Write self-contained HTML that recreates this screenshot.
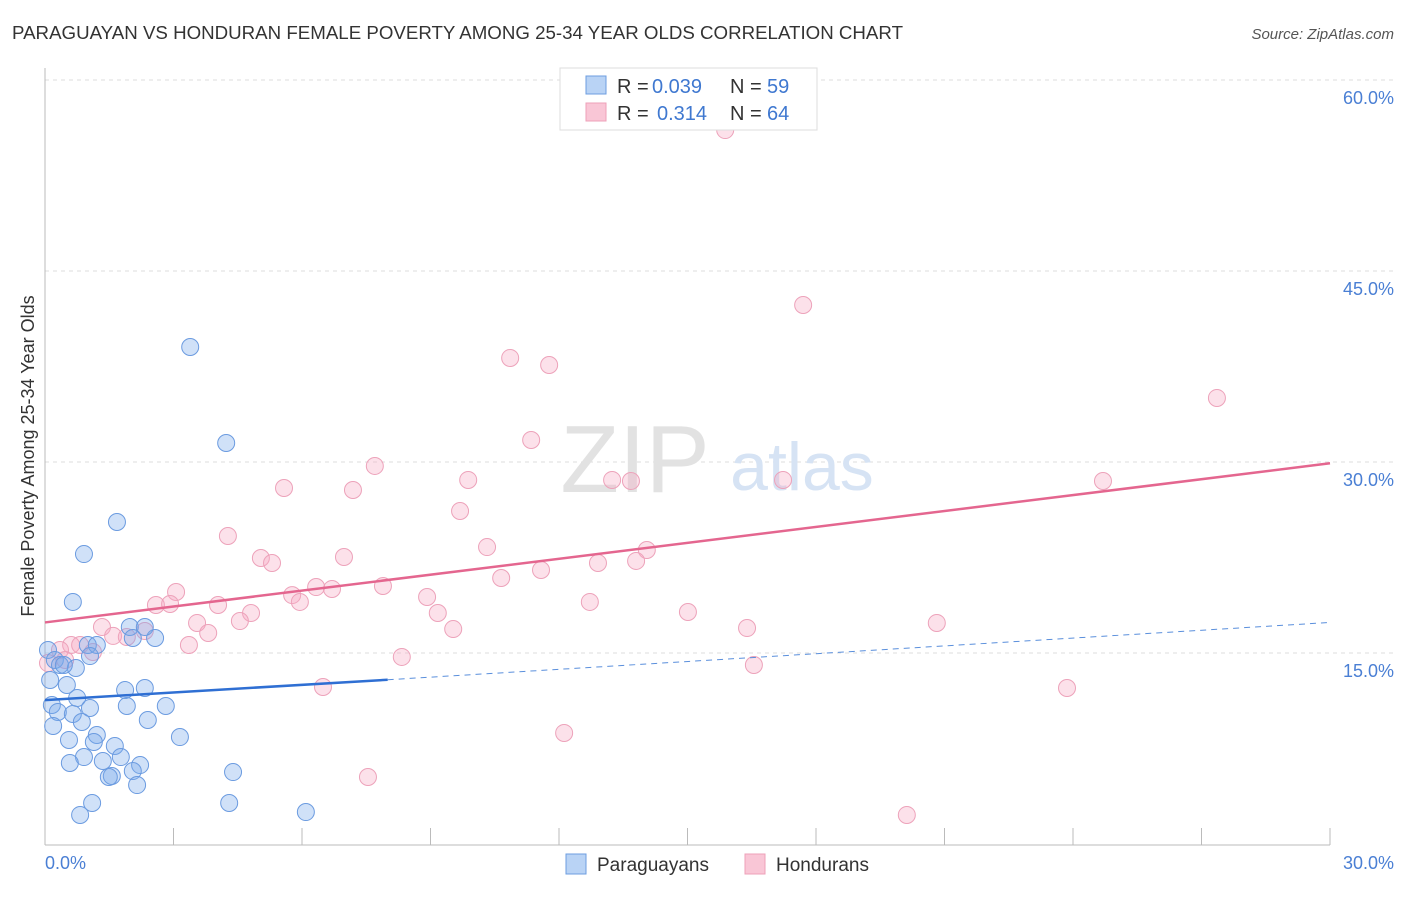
<!DOCTYPE html>
<html><head><meta charset="utf-8"><style>
body{margin:0;background:#fff;font-family:"Liberation Sans",sans-serif}
svg text{font-family:"Liberation Sans",sans-serif}
</style></head><body>
<svg width="1406" height="892" xmlns="http://www.w3.org/2000/svg">
<text x="12" y="39" font-size="18" fill="#333" textLength="891" lengthAdjust="spacingAndGlyphs">PARAGUAYAN VS HONDURAN FEMALE POVERTY AMONG 25-34 YEAR OLDS CORRELATION CHART</text>
<text x="1394" y="39" font-size="15" fill="#555" font-style="italic" text-anchor="end">Source: ZipAtlas.com</text>
<g id="grid"></g>
<text x="635" y="492" font-size="96" fill="#e2e2e2" font-family="Liberation Serif" text-anchor="middle">ZIP</text>
<text x="802" y="490" font-size="68" fill="#d6e3f4" text-anchor="middle">atlas</text>
<g id="pts"></g>
<g id="lines"></g>
<text transform="translate(34,456) rotate(-90)" font-size="18" fill="#333" text-anchor="middle">Female Poverty Among 25-34 Year Olds</text>
<text x="45" y="869" font-size="18" fill="#4a7fd4">0.0%</text>
<text x="1394" y="869" font-size="18" fill="#4a7fd4" text-anchor="end">30.0%</text>
<g>
<rect x="560" y="68" width="257" height="62" fill="#fff" stroke="#ddd"/>
<rect x="586" y="76" width="20" height="18" fill="#b9d3f5" stroke="#6d9ee0"/>
<rect x="586" y="103" width="20" height="18" fill="#f9c6d6" stroke="#eea0b8"/>
<text x="617" y="93" font-size="20" fill="#333">R =</text>
<text x="652" y="93" font-size="20" fill="#3f78d0">0.039</text>
<text x="730" y="93" font-size="20" fill="#333">N =</text>
<text x="767" y="93" font-size="20" fill="#3f78d0">59</text>
<text x="617" y="120" font-size="20" fill="#333">R =</text>
<text x="657" y="120" font-size="20" fill="#3f78d0">0.314</text>
<text x="730" y="120" font-size="20" fill="#333">N =</text>
<text x="767" y="120" font-size="20" fill="#3f78d0">64</text>
</g>
<g><rect x="566" y="854" width="20" height="20" fill="#b9d3f5" stroke="#6d9ee0"/><text x="597" y="871" font-size="19" fill="#333">Paraguayans</text></g>
<g><rect x="745" y="854" width="20" height="20" fill="#f9c6d6" stroke="#eea0b8"/><text x="776" y="871" font-size="19" fill="#333">Hondurans</text></g>
</svg>
<script>
const yTicks=[15,30,45,60];
const xTickCount=10;
const blueX=[3.39,4.23,1.68,0.91,0.65,1.00,1.98,2.57,2.33,2.05,0.07,0.23,0.35,0.72,0.12,0.51,1.87,2.33,0.16,0.75,1.91,2.82,1.05,0.30,0.65,0.86,2.40,0.19,3.15,0.56,1.21,1.14,1.63,1.77,1.35,2.22,0.91,0.58,2.05,4.39,1.56,1.49,2.15,1.10,4.30,0.82,6.09,0.44,1.21,1.05];
const blueY=[39.03,31.49,25.29,22.77,19.01,15.63,17.04,16.18,17.04,16.18,15.24,14.45,14.06,13.82,12.88,12.49,12.09,12.25,10.92,11.47,10.84,10.84,10.68,10.37,10.21,9.58,9.74,9.27,8.40,8.17,8.56,8.01,7.70,6.83,6.52,6.20,6.83,6.36,5.73,5.65,5.34,5.26,4.63,3.22,3.22,2.28,2.51,14.06,15.63,14.76];
const pinkX=[15.88,17.70,10.86,11.77,27.36,11.35,7.70,13.24,13.68,17.23,24.70,9.88,5.58,7.19,9.69,4.27,5.04,5.30,6.98,10.32,14.05,11.58,12.91,13.80,10.65,7.89,3.06,6.33,6.70,5.77,5.95,8.92,12.72,2.59,2.92,4.04,4.81,9.17,15.01,4.55,3.55,1.33,20.82,16.39,9.53,3.81,1.59,1.91,2.33,3.36,0.61,0.82,0.35,1.12,8.33,16.55,6.49,23.86,12.12,7.54,20.12,0.07,0.47];
const pinkY=[56.07,42.33,38.17,37.62,35.03,31.73,29.69,28.59,28.51,28.59,28.51,28.59,27.96,27.80,26.15,24.19,22.46,22.07,22.54,23.32,23.09,21.52,22.07,22.23,20.89,20.26,19.79,20.18,20.03,19.55,19.01,19.40,19.01,18.77,18.85,18.77,18.14,18.14,18.22,17.51,17.36,17.04,17.36,16.96,16.88,16.57,16.34,16.26,16.73,15.63,15.63,15.63,15.24,15.08,14.69,14.06,12.33,12.25,8.72,5.26,2.28,14.21,14.45];
const blueTrend=[11.3,12.9,17.4]; // at x=0, 8, 30
const pinkTrend=[17.4,29.9]; // at x=0, 30
const NS="http://www.w3.org/2000/svg";
const X=v=>45+v/30*1285, Y=v=>844-v/15*191;
function mk(tag,attrs,parent){const e=document.createElementNS(NS,tag);for(const k in attrs)e.setAttribute(k,attrs[k]);parent.appendChild(e);return e;}
const grid=document.getElementById('grid');
yTicks.forEach(t=>{
 const l=mk('line',{x1:45,x2:1394,y1:Y(t),y2:Y(t),stroke:'#ddd','stroke-dasharray':'4,4'},grid);
 
 
 const tx=mk('text',{x:1394,y:Y(t)+24,'font-size':18,fill:'#4a7fd4','text-anchor':'end'},grid);
 tx.textContent=t.toFixed(1)+'%';
 
 
});
const ax=mk('line',{x1:45,x2:1330,y1:845,y2:845,stroke:'#bbb'},grid);


const ay=mk('line',{x1:45,x2:45,y1:68,y2:845,stroke:'#bbb'},grid);


for(let i=0;i<=xTickCount;i++){const v=i*30/xTickCount;
 const t=mk('line',{x1:X(v),x2:X(v),y1:828,y2:845,stroke:'#bbb'},grid);
 
 }
const pts=document.getElementById('pts');
function dots(xs,ys,fill,stroke,name){xs.forEach((x,i)=>{
 const c=mk('circle',{cx:X(x),cy:Y(ys[i]),r:8.5,fill:fill,stroke:stroke,'stroke-width':1},pts);
 
 });}
dots(pinkX,pinkY,'rgba(246,170,195,0.35)','#eda2ba','honduran-point');
dots(blueX,blueY,'rgba(120,170,235,0.35)','#6b9be0','paraguayan-point');
const lines=document.getElementById('lines');
const b1=mk('line',{x1:X(0),y1:Y(blueTrend[0]),x2:X(8),y2:Y(blueTrend[1]),stroke:'#2f6fd3','stroke-width':2.5},lines);


const b2=mk('line',{x1:X(8),y1:Y(blueTrend[1]),x2:X(30),y2:Y(blueTrend[2]),stroke:'#5a8fdc','stroke-width':1,'stroke-dasharray':'6,5'},lines);


const p1=mk('line',{x1:X(0),y1:Y(pinkTrend[0]),x2:X(30),y2:Y(pinkTrend[1]),stroke:'#e4668f','stroke-width':2.5},lines);


</script>
</body></html>
